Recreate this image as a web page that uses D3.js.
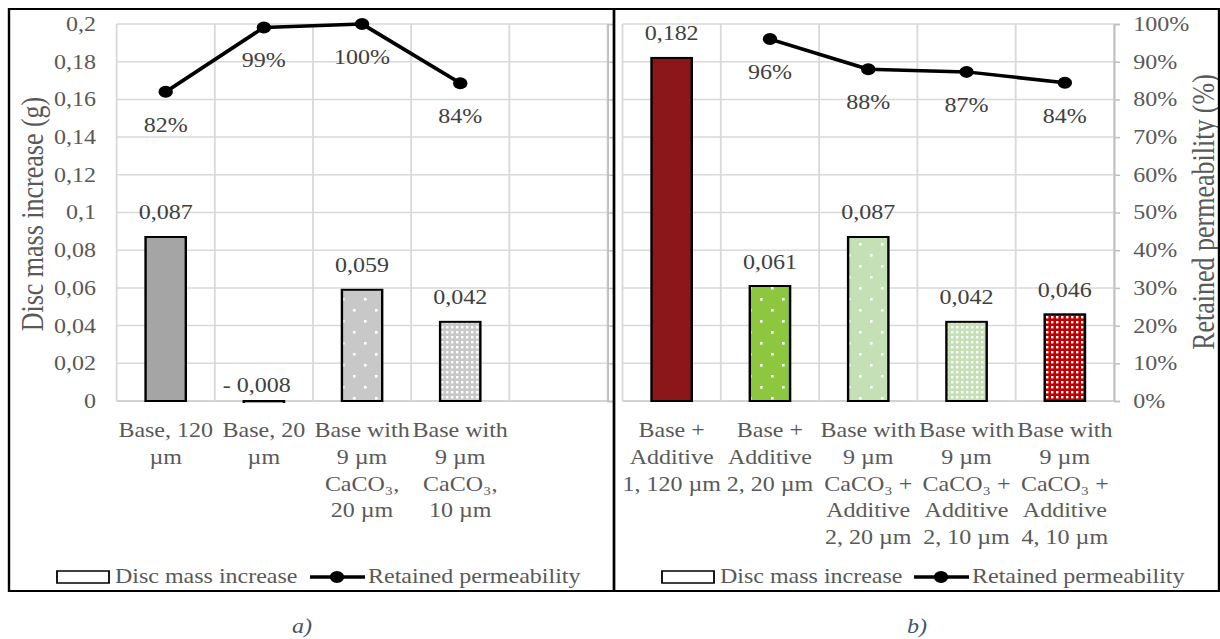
<!DOCTYPE html>
<html>
<head>
<meta charset="utf-8">
<script src="https://cdn.jsdelivr.net/npm/d3@7"></script>
<style>
  html, body { margin: 0; padding: 0; background: #fff; }
  svg { display: block; }
  text { font-family: "Liberation Serif", "Times New Roman", serif; }
</style>
</head>
<body>
<script>
// chart values
const catsA = [
  ["Base, 120", "µm"],
  ["Base, 20", "µm"],
  ["Base with", "9 µm", "CaCO₃,", "20 µm"],
  ["Base with", "9 µm", "CaCO₃,", "10 µm"],
  []
];
const massA = [0.087, -0.008, 0.059, 0.042, null];
const permA = [0.82, 0.991, 1.0, 0.843, null];

const catsB = [
  ["Base +", "Additive", "1, 120 µm"],
  ["Base +", "Additive", "2, 20 µm"],
  ["Base with", "9 µm", "CaCO₃ +", "Additive", "2, 20 µm"],
  ["Base with", "9 µm", "CaCO₃ +", "Additive", "2, 10 µm"],
  ["Base with", "9 µm", "CaCO₃ +", "Additive", "4, 10 µm"]
];
const massB = [0.182, 0.061, 0.087, 0.042, 0.046];
const permB = [null, 0.96, 0.88, 0.873, 0.844];

const massTicks = d3.range(0, 0.2001, 0.02);
const permTicks = d3.range(0, 1.0001, 0.1);
const legendNames = ["Disc mass increase", "Retained permeability"];

// the original figure is stretched horizontally, so draw in a narrower box and stretch it
const S = 1.2;
const W = 1220 / S;

const locale = d3.formatLocale({ decimal: ",", thousands: " ", grouping: [3], currency: ["", ""] });
const tickFmt = locale.format(".2~f");
const valFmt = v => v < 0 ? "- " + locale.format(".3f")(-v) : locale.format(".3f")(v);
const pctFmt = d3.format(".0%");

const svg = d3.select("body").append("svg")
  .attr("width", 1220).attr("height", 639)
  .attr("viewBox", `0 0 ${W} 639`)
  .attr("preserveAspectRatio", "none");

const defs = svg.append("defs");

function dotPattern(id, color, size, dot, stagger) {
  const p = defs.append("pattern").attr("id", id)
    .attr("patternUnits", "userSpaceOnUse")
    .attr("width", size / S).attr("height", size);
  p.append("rect").attr("width", size / S).attr("height", size).attr("fill", color);
  const pts = stagger ? [[0, 0], [size / 2, size / 2]] : [[0, 0]];
  pts.forEach(([px, py]) => {
    p.append("rect").attr("x", (px + 1) / S).attr("y", py + 1)
      .attr("width", dot / S).attr("height", dot).attr("fill", "#fff");
  });
  return `url(#${id})`;
}

const fillsA = [
  "#a5a5a5",
  "#a5a5a5",
  dotPattern("grSparse", "#c8c8c8", 22, 2.6, true),
  dotPattern("grDense", "#c8c8c8", 5, 2.4, false)
];
const fillsB = [
  "#8b171b",
  dotPattern("gnSparse", "#8dc63f", 22, 2.6, true),
  dotPattern("lgSparse", "#c5e0b4", 22, 2.6, true),
  dotPattern("lgDense", "#c5e0b4", 5, 2.4, false),
  dotPattern("rdDense", "#c00000", 5, 2.4, false)
];

const y = d3.scaleLinear().domain([0, 0.2]).range([401, 24]);
const yP = d3.scaleLinear().domain([0, 1]).range([401, 24]);

const panels = [
  { id: "a", box: [9, 614], x0: 116.6, x1: 607.5, cats: catsA, mass: massA, perm: permA,
    fills: fillsA, leftAxis: true, rightLabels: false, leg: [57, 310], caption: "a)", capX: 302 },
  { id: "b", box: [614, 1219], x0: 622.5, x1: 1114, cats: catsB, mass: massB, perm: permB,
    fills: fillsB, leftAxis: false, rightLabels: true, leg: [662, 914], caption: "b)", capX: 917 }
];

panels.forEach(p => {
  const g = svg.append("g");
  const x = d3.scaleBand().domain(d3.range(p.cats.length))
    .range([p.x0 / S, p.x1 / S]).paddingInner(0.59).paddingOuter(0.295);
  const cx = i => x(i) + x.bandwidth() / 2;
  const step = x.step();

  // gridlines
  g.append("g").selectAll("line").data(massTicks).join("line")
    .attr("x1", p.x0 / S).attr("x2", p.x1 / S)
    .attr("y1", d => y(d)).attr("y2", d => y(d))
    .attr("stroke", d => d === 0 ? "#c4c4c4" : "#d9d9d9").attr("stroke-width", 1.5);
  g.append("g").selectAll("line").data(d3.range(p.cats.length + 1)).join("line")
    .attr("x1", i => p.x0 / S + i * step).attr("x2", i => p.x0 / S + i * step)
    .attr("y1", 24).attr("y2", 401)
    .attr("stroke", "#d9d9d9").attr("stroke-width", 1.5);

  // axes
  if (p.leftAxis) {
    const ax = g.append("g").attr("transform", `translate(${96 / S},0)`)
      .call(d3.axisLeft(y).tickValues(massTicks).tickFormat(tickFmt).tickSize(0).tickPadding(0));
    ax.select(".domain").remove();
    ax.selectAll("text").attr("font-size", 20).attr("fill", "#595959")
      .attr("font-family", "Liberation Serif, Times New Roman, serif");
    g.append("text")
      .attr("transform", `translate(${32 / S},214) rotate(-90)`)
      .attr("text-anchor", "middle").attr("dominant-baseline", "central")
      .attr("font-size", 26).attr("fill", "#595959").text("Disc mass increase (g)");
  }
  const rax = g.append("g").attr("transform", `translate(${p.x1 / S},0)`)
    .call(d3.axisRight(yP).tickValues(permTicks)
      .tickFormat(p.rightLabels ? pctFmt : () => "").tickSize(6 / S).tickPadding(11));
  rax.select(".domain").attr("stroke", "#bfbfbf").attr("stroke-width", 1.5);
  rax.selectAll(".tick line").attr("stroke", "#bfbfbf").attr("stroke-width", 1.5);
  rax.selectAll("text").attr("font-size", 20).attr("fill", "#595959")
    .attr("font-family", "Liberation Serif, Times New Roman, serif");
  if (p.rightLabels) {
    g.append("text")
      .attr("transform", `translate(${1203 / S},212) rotate(-90)`)
      .attr("text-anchor", "middle").attr("dominant-baseline", "central")
      .attr("font-size", 26).attr("fill", "#595959").text("Retained permeability (%)");
  }

  // bars
  g.append("clipPath").attr("id", "clip" + p.id).append("rect")
    .attr("x", p.x0 / S).attr("y", 0).attr("width", (p.x1 - p.x0) / S).attr("height", 403);
  const bars = p.mass.map((v, i) => ({ v, i })).filter(d => d.v !== null);
  g.append("g").attr("clip-path", `url(#clip${p.id})`)
    .selectAll("rect").data(bars).join("rect")
    .attr("x", d => x(d.i)).attr("width", x.bandwidth())
    .attr("y", d => y(Math.max(0, d.v)))
    .attr("height", d => Math.abs(y(d.v) - y(0)))
    .attr("fill", d => p.fills[d.i])
    .attr("stroke", "#000").attr("stroke-width", 2);

  g.append("g").selectAll("text").data(bars).join("text")
    .attr("x", d => cx(d.i) - (d.v < 0 ? 7 / S : 0))
    .attr("y", d => d.v < 0 ? y(0) - 9 : y(d.v) - 17.5)
    .attr("text-anchor", "middle").attr("font-size", 20).attr("fill", "#404040")
    .text(d => valFmt(d.v));

  // retained permeability line
  const pts = p.perm.map((v, i) => ({ v, i })).filter(d => d.v !== null);
  g.append("path").datum(pts)
    .attr("d", d3.line().x(d => cx(d.i)).y(d => yP(d.v)))
    .attr("fill", "none").attr("stroke", "#000").attr("stroke-width", 3.5)
    .attr("stroke-linejoin", "round");
  g.append("g").selectAll("circle").data(pts).join("circle")
    .attr("cx", d => cx(d.i)).attr("cy", d => yP(d.v)).attr("r", 6).attr("fill", "#000");
  g.append("g").selectAll("text").data(pts).join("text")
    .attr("x", d => cx(d.i)).attr("y", d => yP(d.v) + 40)
    .attr("text-anchor", "middle").attr("font-size", 20).attr("fill", "#404040")
    .text(d => pctFmt(d.v));

  // category labels
  const cl = g.append("g").selectAll("text").data(p.cats).join("text")
    .attr("text-anchor", "middle").attr("font-size", 20).attr("fill", "#595959");
  cl.each(function (lines, i) {
    d3.select(this).selectAll("tspan").data(lines).join("tspan")
      .attr("x", cx(i)).attr("y", (d, k) => 437 + k * 26.8).text(d => d);
  });

  // legend
  const lg = g.append("g");
  lg.append("rect").attr("x", p.leg[0] / S).attr("y", 571).attr("width", 52 / S).attr("height", 12)
    .attr("fill", "#fff").attr("stroke", "#000").attr("stroke-width", 1.5);
  lg.append("text").attr("x", (p.leg[0] + 58) / S).attr("y", 583)
    .attr("font-size", 20).attr("fill", "#595959").text(legendNames[0]);
  lg.append("line").attr("x1", p.leg[1] / S).attr("x2", (p.leg[1] + 55) / S)
    .attr("y1", 577).attr("y2", 577).attr("stroke", "#000").attr("stroke-width", 3.5);
  lg.append("circle").attr("cx", (p.leg[1] + 27) / S).attr("cy", 577).attr("r", 6).attr("fill", "#000");
  lg.append("text").attr("x", (p.leg[1] + 58) / S).attr("y", 583)
    .attr("font-size", 20).attr("fill", "#595959").text(legendNames[1]);

  // panel frame and caption
  g.append("rect").attr("x", p.box[0] / S).attr("y", 9)
    .attr("width", (p.box[1] - p.box[0]) / S).attr("height", 582)
    .attr("fill", "none").attr("stroke", "#000").attr("stroke-width", 2);
  g.append("text").attr("x", p.capX / S).attr("y", 633).attr("text-anchor", "middle")
    .attr("font-size", 20).attr("font-style", "italic").attr("fill", "#44546a").text(p.caption);
});
</script>
</body>
</html>
